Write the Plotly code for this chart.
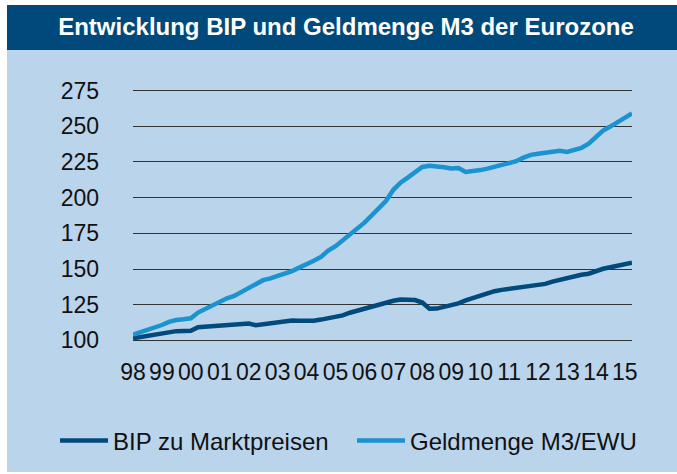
import plotly.graph_objects as go
import pandas as pd

# ---------------- data ----------------
start_date = "1998-01-01"
bip = [101.5, 102.3, 103.2, 104.2, 104.8, 105.6, 106.5, 106.6,
       106.8, 109.3, 109.7, 110.1, 110.6, 111.2, 111.2, 112.0,
       111.8, 110.6, 111.2, 112.2, 112.6, 113.2, 113.9, 113.8,
       113.6, 113.8, 114.6, 115.5, 116.2, 117.5, 119.4, 120.8,
       122.3, 124.0, 125.6, 126.9, 127.8, 128.6, 128.7, 128.3,
       126.5, 122.2, 122.3, 123.3, 124.4, 125.9, 128.0, 129.8,
       131.3, 133.4, 134.5, 135.4, 136.0, 136.9, 137.8, 138.5,
       138.8, 139.6, 141.2, 142.6, 144.0, 145.3, 146.0, 146.7,
       148.5, 150.2, 151.2, 152.3, 153.4, 154.4]
m3 = [104.0, 105.5, 107.5, 109.2, 110.8, 113.0, 114.3, 114.8,
      115.5, 119.5, 122.0, 125.0, 127.8, 129.5, 131.2, 134.2,
      137.0, 139.8, 142.2, 143.5, 145.0, 146.8, 148.6, 151.0,
      153.2, 155.8, 158.5, 163.0, 166.0, 170.0, 173.7, 177.5,
      182.5, 187.5, 192.5, 197.8, 205.5, 210.5, 214.0, 218.0,
      221.5, 222.3, 222.0, 221.3, 220.5, 220.8, 218.0, 218.5,
      219.3, 220.3, 221.3, 223.0, 224.2, 225.5, 228.0, 230.0,
      230.8, 231.3, 232.2, 232.8, 232.0, 233.0, 234.8, 237.8,
      242.5, 247.0, 249.8, 252.8, 255.8, 259.0]
tick_years = list(range(1998, 2016))
tick_labels = ["98", "99", "00", "01", "02", "03", "04", "05", "06",
               "07", "08", "09", "10", "11", "12", "13", "14", "15"]
y_ticks = [100, 125, 150, 175, 200, 225, 250, 275]
series_names = ["BIP zu Marktpreisen", "Geldmenge M3/EWU"]
title_text = "Entwicklung BIP und Geldmenge M3 der Eurozone"

# ---------------- styling ----------------
W, H = 677, 474
ML, MR, MT, MB = 133, 45, 87, 130
FONT = "Liberation Sans, Arial, Helvetica, sans-serif"
DARK = "#004a7c"
LIGHT = "#1b93cf"
BG = "#bad4ec"
TITLE_BG = "#00497a"

dates = pd.date_range(start_date, periods=len(bip), freq="QS")
tickvals = [pd.Timestamp(f"{y}-01-01") for y in tick_years]

fig = go.Figure()
fig.add_trace(go.Scatter(x=dates, y=bip, mode="lines", name=series_names[0],
                         line=dict(color=DARK, width=4.5)))
fig.add_trace(go.Scatter(x=dates, y=m3, mode="lines", name=series_names[1],
                         line=dict(color=LIGHT, width=4.5)))

pw = W - ML - MR
ph = H - MT - MB


def px_to_paper_x(px):
    return (px - ML) / pw


def px_to_paper_y(py):
    return (H - MB - py) / ph


shapes = [
    dict(type="rect", xref="paper", yref="paper", layer="below",
         x0=px_to_paper_x(7), x1=px_to_paper_x(W + 2),
         y0=px_to_paper_y(472), y1=px_to_paper_y(50),
         fillcolor=BG, line=dict(width=0)),
    dict(type="rect", xref="paper", yref="paper", layer="below",
         x0=px_to_paper_x(7), x1=px_to_paper_x(W + 2),
         y0=px_to_paper_y(50), y1=px_to_paper_y(5),
         fillcolor=TITLE_BG, line=dict(width=0)),
]

fig.update_layout(
    width=W, height=H,
    margin=dict(l=ML, r=MR, t=MT, b=MB, pad=0, autoexpand=False),
    paper_bgcolor="white",
    plot_bgcolor=BG,
    font=dict(family=FONT, size=23, color="#111111"),
    shapes=shapes,
    title=dict(text="<b>" + title_text + "</b>", x=346 / W, xref="container",
               xanchor="center", y=1 - 27 / H, yref="container", yanchor="middle",
               font=dict(family=FONT, size=24, color="white")),
    xaxis=dict(type="date", range=[dates[0], dates[-1]],
               tickvals=tickvals, ticktext=tick_labels,
               showgrid=False, zeroline=False, showline=False, ticks="",
               ticklabelstandoff=12, tickangle=0, automargin=False,
               tickfont=dict(family=FONT, size=23, color="#111111")),
    yaxis=dict(range=[97.5, 277.5], tickvals=y_ticks,
               showgrid=True, gridcolor="#333333", gridwidth=1,
               zeroline=False, showline=False, ticks="",
               ticklabelstandoff=33, automargin=False,
               tickfont=dict(family=FONT, size=23, color="#111111")),
    legend=dict(orientation="h", xref="paper", yref="paper",
                x=px_to_paper_x(55), xanchor="left",
                y=px_to_paper_y(441), yanchor="middle",
                bgcolor="rgba(0,0,0,0)", itemwidth=48,
                entrywidth=234, entrywidthmode="pixels",
                font=dict(family=FONT, size=24, color="#111111")),
    showlegend=True,
)

fig.write_html("out.html", config={"displayModeBar": False},
               post_script="document.body.style.margin='0';document.body.style.padding='0';")
